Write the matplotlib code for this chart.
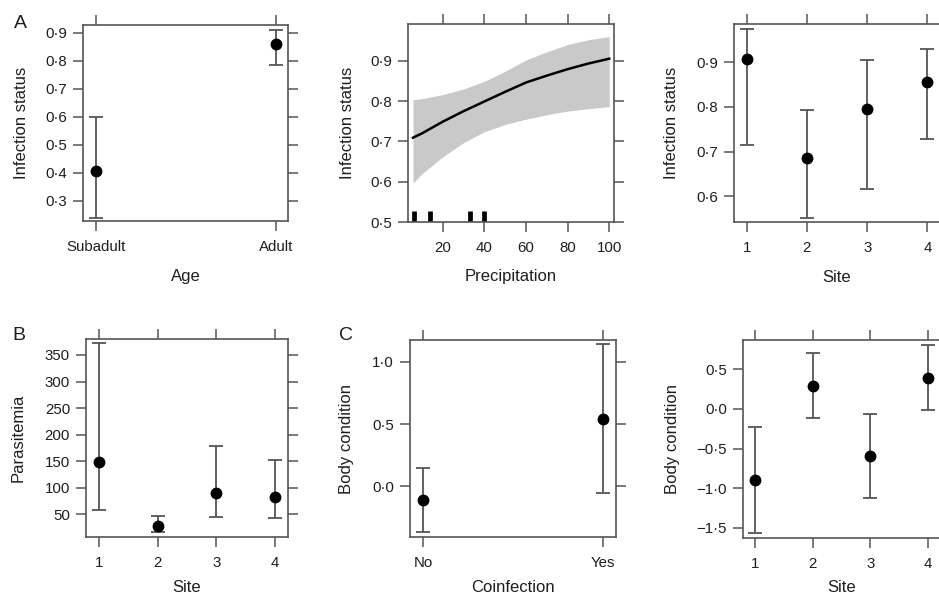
import matplotlib
matplotlib.use('Agg')
import matplotlib.pyplot as plt

plt.rcParams['font.family'] = ['Liberation Sans', 'DejaVu Sans']

W, H = 939, 598

# ---- data ----
age_levels = ['Subadult', 'Adult']
age_fit = [0.405, 0.860]
age_lower = [0.240, 0.783]
age_upper = [0.600, 0.910]

precip_x = [5.6, 10, 20, 30, 40, 50, 60, 70, 80, 90, 100]
precip_fit = [0.709, 0.720, 0.749, 0.775, 0.799, 0.823, 0.846, 0.863, 0.879, 0.893, 0.905]
precip_upper = [0.803, 0.806, 0.816, 0.830, 0.849, 0.874, 0.902, 0.922, 0.940, 0.952, 0.960]
precip_lower = [0.596, 0.620, 0.662, 0.697, 0.724, 0.742, 0.755, 0.766, 0.775, 0.781, 0.786]
precip_rug = [6, 14, 33, 40]

site_levels = ['1', '2', '3', '4']
site_inf_fit = [0.908, 0.685, 0.796, 0.855]
site_inf_lower = [0.715, 0.552, 0.616, 0.728]
site_inf_upper = [0.975, 0.794, 0.905, 0.929]

site_par_fit = [148, 28, 90, 82]
site_par_lower = [59, 17, 45, 43]
site_par_upper = [372, 47, 179, 152]

coinf_levels = ['No', 'Yes']
coinf_fit = [-0.11, 0.54]
coinf_lower = [-0.365, -0.05]
coinf_upper = [0.147, 1.14]

site_bc_fit = [-0.90, 0.293, -0.595, 0.395]
site_bc_lower = [-1.57, -0.11, -1.12, -0.01]
site_bc_upper = [-0.228, 0.70, -0.06, 0.81]

yt_A = [0.3, 0.4, 0.5, 0.6, 0.7, 0.8, 0.9]
yl_A = ['0·3', '0·4', '0·5', '0·6', '0·7', '0·8', '0·9']
yt_P = [0.5, 0.6, 0.7, 0.8, 0.9]
yl_P = ['0·5', '0·6', '0·7', '0·8', '0·9']
xt_P = [20, 40, 60, 80, 100]
yt_S = [0.6, 0.7, 0.8, 0.9]
yl_S = ['0·6', '0·7', '0·8', '0·9']
yt_B = [50, 100, 150, 200, 250, 300, 350]
yt_C = [0.0, 0.5, 1.0]
yl_C = ['0·0', '0·5', '1·0']
yt_D = [-1.5, -1.0, -0.5, 0.0, 0.5]
yl_D = ['\u22121·5', '\u22121·0', '\u22120·5', '0·0', '0·5']

FRAME = '#555555'
DARK = '#1e1e1e'

fig = plt.figure(figsize=(W / 100, H / 100), dpi=100)


def make_ax(l, t, r, b):
    ax = fig.add_axes([l / W, 1 - b / H, (r - l) / W, (b - t) / H])
    for s in ax.spines.values():
        s.set_color(FRAME)
        s.set_linewidth(1.2)
    ax.tick_params(axis='both', direction='out', length=7, width=1.1,
                   color=FRAME, top=True, right=True, labeltop=False,
                   labelright=False, labelsize=10.8, labelcolor=DARK)
    ax.tick_params(axis='y', pad=4.5)
    ax.tick_params(axis='x', pad=6.5)
    return ax


def labels(ax, xl, yl, xlab_y, ylab_x):
    ax.set_xlabel(xl, fontsize=12, color=DARK)
    ax.set_ylabel(yl, fontsize=12, color=DARK)
    inv = ax.transAxes.inverted()
    bb = ax.get_position()
    cx = (bb.x0 + bb.x1) / 2 * W
    cy = (1 - (bb.y0 + bb.y1) / 2) * H
    ax.xaxis.label.set_verticalalignment('center')
    ax.yaxis.label.set_verticalalignment('center')
    px = inv.transform((cx, H - xlab_y))
    py = inv.transform((ylab_x, H - cy))
    ax.xaxis.set_label_coords(0.5, px[1])
    ax.yaxis.set_label_coords(py[0], 0.5)


def errpanel(ax, x, fit, lo, up):
    yerr = [[f - l for f, l in zip(fit, lo)], [u - f for f, u in zip(fit, up)]]
    ax.errorbar(x, fit, yerr=yerr, fmt='o', color='black', ecolor=FRAME,
                elinewidth=1.3, capsize=4.7, capthick=1.3, markersize=7.5,
                zorder=3)


# Panel A
ax = make_ax(83, 25, 288, 221)
xs = list(range(len(age_levels)))
errpanel(ax, xs, age_fit, age_lower, age_upper)
ax.set_xticks(xs, age_levels)
ax.set_yticks(yt_A, yl_A)
ax.set_xlim(-0.07, 1.065)
ax.set_ylim(0.2275, 0.9275)
labels(ax, 'Age', 'Infection status', 277, 21.5)

# Precipitation
ax = make_ax(408, 24, 614, 222)
ax.fill_between(precip_x, precip_lower, precip_upper, color='#c9c9c9', lw=0)
ax.plot(precip_x, precip_fit, color='black', lw=1.8)
ax.vlines(precip_rug, 0.5, 0.528, colors='black', linewidth=3.4)
ax.set_xticks(xt_P, [str(v) for v in xt_P])
ax.set_yticks(yt_P, yl_P)
ax.set_xlim(3.2, 102.3)
ax.set_ylim(0.5, 0.991)
labels(ax, 'Precipitation', 'Infection status', 277, 347)

# Site infection
ax = make_ax(734, 24, 940, 222)
xs = [1, 2, 3, 4]
errpanel(ax, xs, site_inf_fit, site_inf_lower, site_inf_upper)
ax.set_xticks(xs, site_levels)
ax.set_yticks(yt_S, yl_S)
ax.set_xlim(0.79, 4.21)
ax.set_ylim(0.542, 0.986)
labels(ax, 'Site', 'Infection status', 277, 672)

# B parasitemia
ax = make_ax(86, 339, 288, 537)
errpanel(ax, xs, site_par_fit, site_par_lower, site_par_upper)
ax.set_xticks(xs, site_levels)
ax.set_yticks(yt_B, [str(v) for v in yt_B])
ax.set_xlim(0.78, 4.22)
ax.set_ylim(7.3, 380)
labels(ax, 'Site', 'Parasitemia', 588, 18.5)

# C coinfection
ax = make_ax(410, 340, 616, 537)
xs2 = list(range(len(coinf_levels)))
errpanel(ax, xs2, coinf_fit, coinf_lower, coinf_upper)
ax.set_xticks(xs2, coinf_levels)
ax.set_yticks(yt_C, yl_C)
ax.set_xlim(-0.072, 1.07)
ax.set_ylim(-0.405, 1.174)
labels(ax, 'Coinfection', 'Body condition', 588, 346)

# Site body condition
ax = make_ax(743, 340, 940, 538)
errpanel(ax, xs, site_bc_fit, site_bc_lower, site_bc_upper)
ax.set_xticks(xs, site_levels)
ax.set_yticks(yt_D, yl_D)
ax.set_xlim(0.79, 4.21)
ax.set_ylim(-1.63, 0.87)
labels(ax, 'Site', 'Body condition', 588, 672)

fig.text(20 / W, 1 - 23.5 / H, 'A', fontsize=14, ha='center', va='center', color=DARK)
fig.text(19 / W, 1 - 335.5 / H, 'B', fontsize=14, ha='center', va='center', color=DARK)
fig.text(346.5 / W, 1 - 335.5 / H, 'C', fontsize=14, ha='center', va='center', color=DARK)

fig.savefig('out.png', dpi=100)
